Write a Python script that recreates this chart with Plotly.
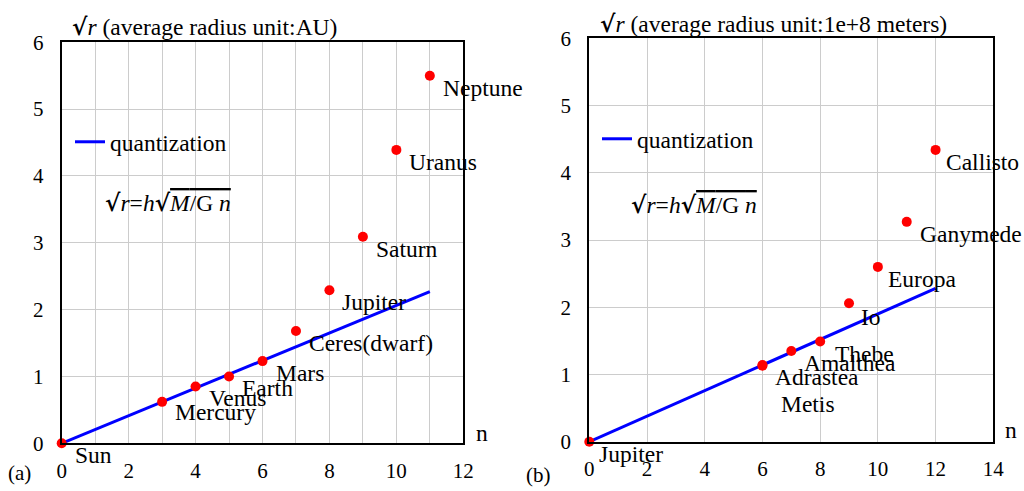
import plotly.graph_objects as go

# ---- data: panel (a) solar system ----
sun_names = ["Sun", "Mercury", "Venus", "Earth", "Mars", "Ceres(dwarf)", "Jupiter", "Saturn", "Uranus", "Neptune"]
sun_n = [0, 3, 4, 5, 6, 7, 8, 9, 10, 11]
sun_sqrt_r = [0.0, 0.62, 0.85, 1.0, 1.23, 1.68, 2.29, 3.09, 4.39, 5.50]
sun_quant_n = [0, 11]
sun_quant_r = [0.0, 2.27]

# ---- data: panel (b) Jupiter system ----
jup_names = ["Jupiter", "Metis", "Adrastea", "Amalthea", "Thebe", "Io", "Europa", "Ganymede", "Callisto"]
jup_n = [0, 6, 6, 7, 8, 9, 10, 11, 12]
jup_sqrt_r = [0.0, 1.13, 1.14, 1.35, 1.49, 2.06, 2.60, 3.27, 4.34]
jup_quant_n = [0, 12]
jup_quant_r = [0.0, 2.28]

x_ticks_a = [0, 2, 4, 6, 8, 10, 12]
x_ticks_b = [0, 2, 4, 6, 8, 10, 12, 14]
y_ticks = [0, 1, 2, 3, 4, 5, 6]

FONT = "Liberation Serif, Times New Roman, serif"
LBL = 23.5
TCK = 21

fig = go.Figure()

# panel (a)
fig.add_trace(go.Scatter(x=sun_quant_n, y=sun_quant_r, mode="lines",
                         line=dict(color="#0000ff", width=3), name="quantization",
                         xaxis="x", yaxis="y", legend="legend", cliponaxis=False))
fig.add_trace(go.Scatter(x=sun_n, y=sun_sqrt_r, mode="markers",
                         marker=dict(color="#ff0000", size=10), showlegend=False,
                         xaxis="x", yaxis="y", cliponaxis=False))
# panel (b)
fig.add_trace(go.Scatter(x=jup_quant_n, y=jup_quant_r, mode="lines",
                         line=dict(color="#0000ff", width=3), name="quantization",
                         xaxis="x2", yaxis="y2", legend="legend2", cliponaxis=False))
fig.add_trace(go.Scatter(x=jup_n, y=jup_sqrt_r, mode="markers",
                         marker=dict(color="#ff0000", size=10), showlegend=False,
                         xaxis="x2", yaxis="y2", cliponaxis=False))

annotations = []
# point labels (style offsets, with a few label-specific nudges)
default_shift = (11, -12)
special_shift = {"Metis": (17, -38), "Europa": (8, -12), "Callisto": (8, -12), "Io": (10, -14),
                 "Thebe": (13, -12), "Mercury": (11, -10), "Jupiter_b": (8, -12)}
for name, xv, yv in zip(sun_names, sun_n, sun_sqrt_r):
    dx, dy = special_shift.get(name, default_shift)
    annotations.append(dict(x=xv, y=yv, xref="x", yref="y", text=name, showarrow=False,
                            xanchor="left", yanchor="middle", xshift=dx, yshift=dy,
                            font=dict(family=FONT, size=LBL, color="black")))
for name, xv, yv in zip(jup_names, jup_n, jup_sqrt_r):
    key = "Jupiter_b" if name == "Jupiter" else name
    dx, dy = special_shift.get(key, default_shift)
    annotations.append(dict(x=xv, y=yv, xref="x2", yref="y2", text=name, showarrow=False,
                            xanchor="left", yanchor="middle", xshift=dx, yshift=dy,
                            font=dict(family=FONT, size=LBL, color="black")))

def txt(text, x, y, size=LBL, anchor="left"):
    annotations.append(dict(x=x, y=y, xref="paper", yref="paper", text=text, showarrow=False,
                            xanchor=anchor, yanchor="middle",
                            font=dict(family=FONT, size=size, color="black")))

rad = "<span style='font-family:DejaVu Serif;font-weight:bold'>√</span>"
sq = rad + "<i>r</i>"
formula = (rad + "<i>r</i>=<i>h</i>" + rad +
           "<span style='text-decoration:overline'><i>M</i>/G <i>n</i></span>")
txt(sq + " (average radius unit:AU)", 70 / 1024, 1 - 27 / 491)
txt(sq + " (average radius unit:1e+8 meters)", 598 / 1024, 1 - 24 / 491)
txt(formula, 103 / 1024, 1 - 203 / 491)
txt(formula, 629 / 1024, 1 - 205 / 491)
txt("n", 474 / 1024, 1 - 433 / 491)
txt("n", 1003 / 1024, 1 - 430 / 491)
txt("(a)", 6 / 1024, 1 - 473 / 491, size=TCK)
txt("(b)", 524 / 1024, 1 - 475 / 491, size=TCK)

axis_common = dict(showline=True, linecolor="black", linewidth=2, mirror=True,
                   showgrid=True, gridcolor="#cccccc", gridwidth=1, zeroline=False,
                   automargin=False,
                   ticks="", tickfont=dict(family=FONT, size=TCK, color="black"))

fig.update_layout(
    width=1024, height=491,
    margin=dict(l=0, r=0, t=0, b=0, autoexpand=False),
    paper_bgcolor="white", plot_bgcolor="white",
    font=dict(family=FONT, size=LBL, color="black"),
    xaxis=dict(domain=[61.7 / 1024, 463.3 / 1024], range=[0, 12], tickvals=x_ticks_a,
               minor=dict(dtick=1, showgrid=True, gridcolor="#cccccc", gridwidth=1),
               ticklabelstandoff=7, anchor="y", **axis_common),
    yaxis=dict(domain=[1 - 443.3 / 491, 1 - 42.3 / 491], range=[0, 6], tickvals=y_ticks,
               ticklabelstandoff=12, anchor="x", **axis_common),
    xaxis2=dict(domain=[589.3 / 1024, 993.3 / 1024], range=[0, 14], tickvals=x_ticks_b,
                ticklabelstandoff=7, anchor="y2", **axis_common),
    yaxis2=dict(domain=[1 - 441.7 / 491, 1 - 38.3 / 491], range=[0, 6], tickvals=y_ticks,
                ticklabelstandoff=12, anchor="x2", **axis_common),
    legend=dict(x=70 / 1024, y=1 - 142 / 491, xanchor="left", yanchor="middle",
                bgcolor="rgba(0,0,0,0)", font=dict(family=FONT, size=LBL, color="black")),
    legend2=dict(x=597 / 1024, y=1 - 139 / 491, xanchor="left", yanchor="middle",
                 bgcolor="rgba(0,0,0,0)", font=dict(family=FONT, size=LBL, color="black")),
    annotations=annotations,
    showlegend=True,
)

fig.write_html("out.html", config={"displayModeBar": False},
               post_script="document.body.style.margin='0';")
